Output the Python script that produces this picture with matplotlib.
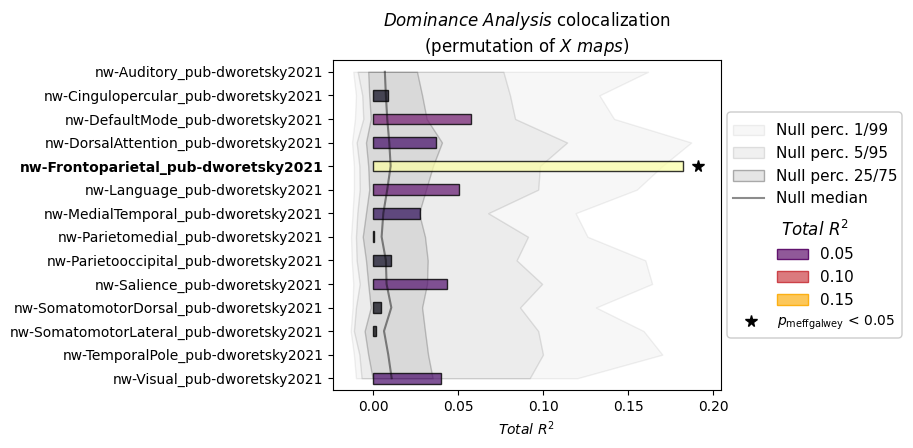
import numpy as np
import matplotlib
matplotlib.use("Agg")
import matplotlib.pyplot as plt
from matplotlib.patches import Patch, FancyBboxPatch
from matplotlib.lines import Line2D
from matplotlib.transforms import IdentityTransform

# networks (top to bottom)
networks = ["Auditory", "Cingulopercular", "DefaultMode", "DorsalAttention",
            "Frontoparietal", "Language", "MedialTemporal", "Parietomedial",
            "Parietooccipital", "Salience", "SomatomotorDorsal",
            "SomatomotorLateral", "TemporalPole", "Visual"]
labels = ["nw-%s_pub-dworetsky2021" % n for n in networks]
total_r2 = [0.0, 0.0086, 0.0573, 0.0367, 0.182, 0.0504, 0.0274, 0.0004,
            0.0102, 0.0432, 0.0044, 0.0014, 0.0, 0.0396]
significant = [False, False, False, False, True, False, False, False,
               False, False, False, False, False, False]

# null distribution percentiles
null_p1 = [-0.0118, -0.0102, -0.0108, -0.0125, -0.0114, -0.0114, -0.0122,
           -0.0131, -0.0127, -0.0118, -0.0122, -0.0133, -0.0114, -0.0102]
null_p5 = [-0.0092, -0.0065, -0.0059, -0.0098, -0.0082, -0.0080, -0.0094,
           -0.0102, -0.0098, -0.0080, -0.0102, -0.0114, -0.0082, -0.0069]
null_p25 = [-0.0030, -0.0024, -0.0015, -0.0043, -0.0030, -0.0024, -0.0043,
            -0.0062, -0.0043, -0.0030, -0.0015, -0.0051, -0.0030, -0.0004]
null_p50 = [0.0068, 0.0074, 0.0082, 0.0094, 0.0102, 0.0082, 0.0059,
            0.0049, 0.0074, 0.0078, 0.0106, 0.0063, 0.0088, 0.0108]
null_p75 = [0.0257, 0.0287, 0.0314, 0.0404, 0.0351, 0.0310, 0.0269,
            0.0304, 0.0320, 0.0316, 0.0287, 0.0304, 0.0322, 0.0349]
null_p95 = [0.0765, 0.0804, 0.0834, 0.1140, 0.0980, 0.0970, 0.0676,
            0.0910, 0.0843, 0.0993, 0.0863, 0.0970, 0.0998, 0.0920]
null_p99 = [0.1616, 0.1330, 0.1416, 0.1870, 0.1700, 0.1550, 0.1190,
            0.1260, 0.1600, 0.1640, 0.1310, 0.1590, 0.1700, 0.1200]

legend_values = [0.05, 0.10, 0.15]

y = np.arange(len(labels))
cmap = plt.get_cmap("inferno")
norm = plt.Normalize(0, max(total_r2))

fig = plt.figure(figsize=(9.13, 4.48), dpi=100)
ax = fig.add_axes([333 / 913, 58 / 448, 388 / 913, 330 / 448])

# null bands
ax.fill_betweenx(y, null_p1, null_p99, facecolor=(0, 0, 0, 0.03),
                 edgecolor=(0, 0, 0, 0.06), lw=1)
ax.fill_betweenx(y, null_p5, null_p95, facecolor=(0, 0, 0, 0.045),
                 edgecolor=(0, 0, 0, 0.1), lw=1)
ax.fill_betweenx(y, null_p25, null_p75, facecolor=(0, 0, 0, 0.08),
                 edgecolor=(0, 0, 0, 0.2), lw=1)
ax.plot(null_p50, y, color=(0, 0, 0, 0.45), lw=1.5)

# bars (no outline where there is nothing to show)
face = [cmap(norm(v), alpha=0.7) for v in total_r2]
widths = [1 if v > 0 else 0 for v in total_r2]
ax.barh(y, total_r2, height=0.45, color=face, edgecolor=(0, 0, 0, 0.8),
        linewidth=widths)
for yi, v, s in zip(y, total_r2, significant):
    if s:
        ax.plot(v + 0.009, yi, marker="*", color="k", ms=8.5, ls="none")

ax.set_yticks(y)
ax.set_yticklabels(labels, fontsize=10)
for t, s in zip(ax.get_yticklabels(), significant):
    if s:
        t.set_fontweight("bold")
ax.set_ylim(len(labels) - 0.5, -0.5)
ax.set_xlim(-0.0237, 0.2045)
ax.set_xticks([0, 0.05, 0.1, 0.15, 0.2])
ax.set_xticklabels(["0.00", "0.05", "0.10", "0.15", "0.20"])
ax.set_xlabel(r"$\it{Total\ R^2}$", fontsize=10)
ax.set_title(r"$\it{Dominance\ Analysis}$ colocalization" + "\n" +
             r"(permutation of $\it{X\ maps}$)", fontsize=12)

# legend frame
frame = FancyBboxPatch((727, 448 - 338), 175, 226,
                       boxstyle="round,pad=0,rounding_size=4",
                       transform=IdentityTransform(), facecolor="white",
                       edgecolor="0.8", lw=1)
fig.patches.append(frame)

null_handles = [
    Patch(facecolor=(0, 0, 0, 0.03), edgecolor=(0, 0, 0, 0.06), label="Null perc. 1/99"),
    Patch(facecolor=(0, 0, 0, 0.06), edgecolor=(0, 0, 0, 0.1), label="Null perc. 5/95"),
    Patch(facecolor=(0, 0, 0, 0.1), edgecolor=(0, 0, 0, 0.3), label="Null perc. 25/75"),
    Line2D([], [], color=(0, 0, 0, 0.45), lw=1.5, label="Null median"),
]
leg1 = fig.legend(handles=null_handles, loc="upper left", frameon=False,
                  bbox_to_anchor=(733 / 913, 1 - 123.5 / 448), borderpad=0,
                  borderaxespad=0, fontsize=11, handlelength=2,
                  handletextpad=0.8, labelspacing=0.5)

color_handles = [Patch(facecolor=cmap(norm(v), alpha=0.7), edgecolor=cmap(norm(v)),
                       label="%.2f" % v) for v in legend_values]
leg2 = fig.legend(handles=color_handles, loc="upper left", frameon=False,
                  bbox_to_anchor=(777 / 913, 1 - 219.5 / 448), borderpad=0,
                  borderaxespad=0, fontsize=11, handlelength=2,
                  handletextpad=0.8, labelspacing=0.5,
                  title=r"$\it{Total\ R^2}$", title_fontsize=12)

star_handle = [Line2D([], [], marker="*", color="k", ls="none", ms=8.5,
                      label=r"$p_{\mathrm{meffgalwey}}$ < 0.05")]
leg3 = fig.legend(handles=star_handle, loc="upper left", frameon=False,
                  bbox_to_anchor=(737 / 913, 1 - 314 / 448), borderpad=0,
                  borderaxespad=0, fontsize=10, handlelength=2,
                  handletextpad=0.9)

fig.savefig("out.png", dpi=100)
